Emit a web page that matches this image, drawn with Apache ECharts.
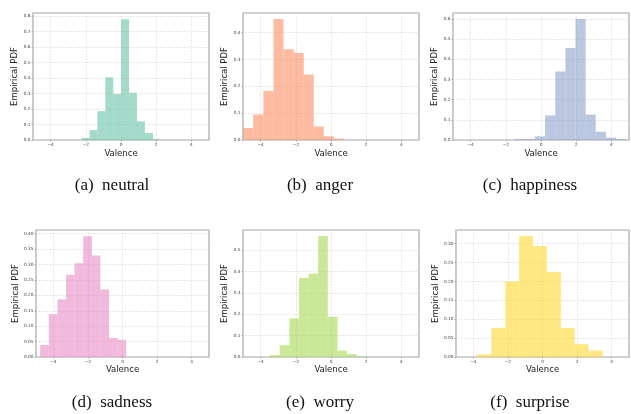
<!DOCTYPE html>
<html>
<head>
<meta charset="utf-8">
<script src="https://cdn.jsdelivr.net/npm/echarts@6/dist/echarts.min.js"></script>
<style>
  html, body { margin: 0; padding: 0; background: #fff; }
  #chart { width: 631px; height: 414px; }
</style>
</head>
<body>
<div id="chart"></div>
<script>
  // 每个情绪一个直方图：bin 左右边界 + 经验密度
  const emotions = ['neutral', 'anger', 'happiness', 'sadness', 'worry', 'surprise']
  const captions = ['(a)', '(b)', '(c)', '(d)', '(e)', '(f)']

  const neutralEdges = [-2.24, -1.79, -1.34, -0.89, -0.44, 0.01, 0.46, 0.91, 1.36, 1.81, 2.26]
  const neutralPdf = [0.013, 0.064, 0.186, 0.404, 0.297, 0.779, 0.304, 0.12, 0.045, 0.004]

  const angerEdges = [-4.99, -4.42, -3.84, -3.27, -2.70, -2.12, -1.55, -0.98, -0.41, 0.17, 0.74]
  const angerPdf = [0.045, 0.095, 0.183, 0.451, 0.338, 0.324, 0.244, 0.050, 0.014, 0.005]

  const happinessEdges = [-1.50, -0.92, -0.34, 0.23, 0.81, 1.39, 1.96, 2.54, 3.11, 3.69, 4.27, 4.84]
  const happinessPdf = [0.005, 0.005, 0.018, 0.122, 0.34, 0.456, 0.600, 0.126, 0.041, 0.012, 0.005]

  const sadnessEdges = [-4.76, -4.26, -3.76, -3.26, -2.77, -2.27, -1.77, -1.28, -0.78, -0.29, 0.21]
  const sadnessPdf = [0.039, 0.139, 0.187, 0.267, 0.304, 0.392, 0.329, 0.219, 0.062, 0.056]

  const worryEdges = [-3.47, -2.92, -2.37, -1.82, -1.28, -0.73, -0.18, 0.37, 0.91, 1.46, 2.01]
  const worryPdf = [0.009, 0.055, 0.181, 0.37, 0.39, 0.567, 0.189, 0.03, 0.014, 0.003]

  const surpriseEdges = [-3.76, -2.96, -2.15, -1.35, -0.55, 0.25, 1.06, 1.86, 2.66, 3.47]
  const surprisePdf = [0.007, 0.077, 0.200, 0.320, 0.294, 0.225, 0.077, 0.034, 0.017]

  const allEdges = [neutralEdges, angerEdges, happinessEdges, sadnessEdges, worryEdges, surpriseEdges]
  const allPdf = [neutralPdf, angerPdf, happinessPdf, sadnessPdf, worryPdf, surprisePdf]

  // 坐标轴范围与刻度
  const xRange = [-5, 5]
  const yMax = [0.819, 0.473, 0.63, 0.412, 0.595, 0.336]
  const yStep = [0.1, 0.1, 0.1, 0.05, 0.1, 0.05]
  const yDecimals = [1, 1, 1, 2, 1, 2]

  const colors = ['#66c2a5', '#fc8d62', '#8da0cb', '#e78ac3', '#a6d854', '#ffd92f']

  // 子图位置
  const layout = [
    { left: 33, top: 13, width: 176, height: 127, yGap: 13, xGap: 9 },
    { left: 243, top: 13, width: 176, height: 127, yGap: 13, xGap: 9 },
    { left: 453, top: 13, width: 176, height: 127, yGap: 13, xGap: 9 },
    { left: 36, top: 230, width: 173, height: 127, yGap: 16, xGap: 8 },
    { left: 243, top: 230, width: 176, height: 127, yGap: 13, xGap: 8 },
    { left: 456, top: 230, width: 173, height: 127, yGap: 16, xGap: 8 }
  ]
  const captionPos = [[112, 186], [320, 186], [530, 186], [112, 403], [320, 403], [530, 403]]

  const grids = []
  const xAxes = []
  const yAxes = []
  const series = []
  const graphics = []

  emotions.forEach((name, i) => {
    const g = layout[i]
    grids.push({
      left: g.left, top: g.top, width: g.width, height: g.height,
      show: true, borderColor: '#a8a8a8', borderWidth: 1.2, backgroundColor: '#fff'
    })
    xAxes.push({
      gridIndex: i,
      type: 'value',
      min: xRange[0],
      max: xRange[1],
      splitNumber: 5,
      name: 'Valence',
      nameLocation: 'middle',
      nameGap: g.xGap,
      nameTextStyle: { fontFamily: 'DejaVu Sans', fontSize: 8.5, color: '#222' },
      axisLine: { show: false, onZero: false },
      axisTick: { show: true, length: 1.5, lineStyle: { color: '#888', width: 0.6 } },
      axisLabel: {
        showMinLabel: false, showMaxLabel: false, margin: 2.5,
        fontFamily: 'DejaVu Sans', fontSize: 4.3, color: '#444',
        formatter: v => (v < 0 ? '\u2212' + Math.abs(v) : '' + v)
      },
      splitLine: { show: true, lineStyle: { color: '#cfcfcf', type: [1.2, 1.5], width: 0.7 } }
    })
    yAxes.push({
      gridIndex: i,
      type: 'value',
      min: 0,
      max: yMax[i],
      interval: yStep[i],
      name: 'Empirical PDF',
      nameLocation: 'middle',
      nameGap: g.yGap,
      nameTextStyle: { fontFamily: 'DejaVu Sans', fontSize: 8.5, color: '#222' },
      axisLine: { show: false, onZero: false },
      axisTick: { show: true, length: 1.5, lineStyle: { color: '#888', width: 0.6 } },
      axisLabel: {
        showMaxLabel: false, margin: 2.5,
        fontFamily: 'DejaVu Sans', fontSize: 4.3, color: '#444',
        formatter: v => v.toFixed(yDecimals[i])
      },
      splitLine: { show: true, lineStyle: { color: '#cfcfcf', type: [1.2, 1.5], width: 0.7 } }
    })
    const edges = allEdges[i]
    const data = allPdf[i].map((h, k) => [edges[k], edges[k + 1], h])
    series.push({
      type: 'custom',
      name: name,
      xAxisIndex: i,
      yAxisIndex: i,
      encode: { x: [0, 1], y: 2 },
      data: data,
      renderItem: (params, api) => {
        const p0 = api.coord([api.value(0), api.value(2)])
        const p1 = api.coord([api.value(1), 0])
        return {
          type: 'rect',
          shape: { x: p0[0], y: p0[1], width: p1[0] - p0[0], height: p1[1] - p0[1] },
          style: { fill: colors[i], opacity: 0.6 }
        }
      }
    })
    graphics.push({
      type: 'text',
      x: captionPos[i][0],
      y: captionPos[i][1],
      style: {
        text: captions[i] + '\u2002' + name,
        fontFamily: 'Liberation Serif',
        fontSize: 17,
        fill: '#111',
        align: 'center',
        verticalAlign: 'middle'
      }
    })
  })

  const chart = echarts.init(document.getElementById('chart'), null, { renderer: 'canvas' })
  chart.setOption({
    animation: false,
    backgroundColor: '#fff',
    grid: grids,
    xAxis: xAxes,
    yAxis: yAxes,
    series: series,
    graphic: graphics
  })
</script>
</body>
</html>
